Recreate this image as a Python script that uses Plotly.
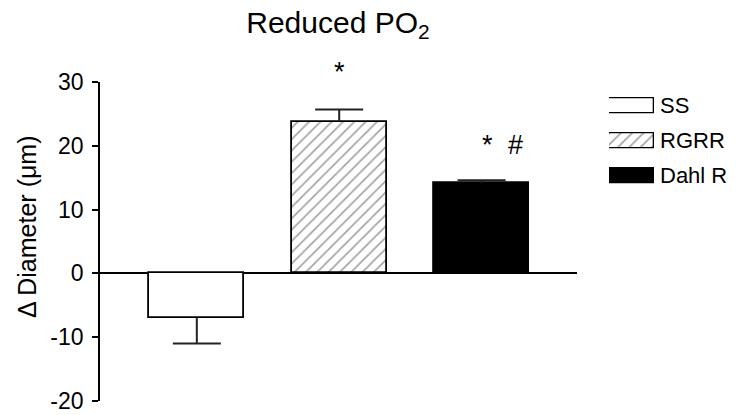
import plotly.graph_objects as go

# ---- data ----
categories = ["SS", "RGRR", "Dahl R"]
values = [-7.0, 23.8, 14.2]
err_plus = [0.0, 1.9, 0.4]
err_minus = [4.0, 0.0, 0.0]
fill_colors = ["white", "white", "black"]
patterns = ["", "/", ""]
y_ticks = [-20, -10, 0, 10, 20, 30]
y_tick_labels = ["-20", "-10", "0", "10", "20", "30"]
sig_marks = [("*", 1, 31.6), ("*", 2.04, 20.1), ("#", 2.24, 20.1)]

FONT = "Liberation Sans, Arial, sans-serif"
W, H = 747, 415
L, R, T, B = 100, 10, 82, 14
PW = W - L - R
PH = H - T - B

def px_x(p):
    return (p - L) / PW

def px_y(p):
    return (H - B - p) / PH

xs = list(range(len(categories)))
tips = [v + p - m for v, p, m in zip(values, err_plus, err_minus)]

fig = go.Figure()

fig.add_trace(go.Bar(
    x=xs, y=values,
    width=0.667,
    marker=dict(color=fill_colors, line=dict(color="black", width=1.8),
                pattern=dict(shape=patterns, fgcolor="#333", bgcolor="white",
                             size=8, solidity=0.2)),
    error_y=dict(type="data", symmetric=False, array=err_plus, arrayminus=err_minus,
                 color="#222", thickness=2, width=0),
    showlegend=False, xaxis="x", yaxis="y", cliponaxis=False,
))

# error-bar caps at the far tip only
fig.add_trace(go.Scatter(
    x=xs, y=tips, mode="markers", marker=dict(opacity=0, size=1),
    error_y=dict(type="data", array=[0, 0, 0], color="#222", thickness=2, width=24),
    showlegend=False, hoverinfo="skip", xaxis="x", yaxis="y", cliponaxis=False,
))

# legend swatches drawn as bars on an auxiliary axis
fig.add_trace(go.Bar(
    y=categories, x=[1, 1, 1], orientation="h", width=0.43,
    marker=dict(color=fill_colors, line=dict(color="black", width=1.3),
                pattern=dict(shape=patterns, fgcolor="#333", bgcolor="white",
                             size=8, solidity=0.2)),
    showlegend=False, xaxis="x2", yaxis="y2", hoverinfo="skip",
))

fig.update_layout(
    width=W, height=H,
    margin=dict(l=L, r=R, t=T, b=B, autoexpand=False),
    paper_bgcolor="white", plot_bgcolor="white",
    font=dict(family=FONT, color="black"),
    title=dict(text="Reduced PO<sub>2</sub>", font=dict(size=30, family=FONT),
               x=338 / W, xanchor="center", xref="container",
               y=1 - 22 / H, yanchor="middle", yref="container"),
    xaxis=dict(domain=[0, 477 / PW], range=[-0.68, 2.67], showticklabels=False,
               showgrid=False, zeroline=False, showline=False, ticks="",
               automargin=False),
    yaxis=dict(range=[-20, 30], tickvals=y_ticks, ticktext=y_tick_labels,
               showgrid=False, automargin=False,
               zeroline=True, zerolinecolor="black", zerolinewidth=1.6,
               showline=True, linecolor="black", linewidth=1.6,
               ticks="outside", ticklen=6, tickwidth=1.6, tickcolor="black",
               tickfont=dict(size=23, family=FONT), ticklabelstandoff=4),
    xaxis2=dict(domain=[px_x(609), px_x(654)], range=[0, 1], anchor="y2",
                visible=False, automargin=False),
    yaxis2=dict(domain=[px_y(193.3), px_y(88.3)], range=[2.5, -0.5], anchor="x2",
                visible=False, categoryorder="array", categoryarray=categories,
                type="category", automargin=False),
    bargap=0,
)

annotations = []
for txt, xv, yv in sig_marks:
    annotations.append(dict(x=xv, y=(yv + 20) / 50, xref="x", yref="paper", text=txt,
                            showarrow=False, font=dict(size=27, family=FONT),
                            xanchor="center", yanchor="middle"))
annotations.append(dict(x=px_x(27), y=px_y(227), xref="paper", yref="paper",
                        text="Δ Diameter (μm)", textangle=-90, showarrow=False,
                        font=dict(size=25, family=FONT), xanchor="center",
                        yanchor="middle"))
for c in categories:
    annotations.append(dict(x=px_x(658), y=c, xref="paper", yref="y2", text=c,
                            showarrow=False, font=dict(size=22, family=FONT),
                            xanchor="left", yanchor="middle"))
fig.update_layout(annotations=annotations)

fig.write_html("out.html", config={"displayModeBar": False},
               post_script="document.body.style.margin='0';document.body.style.padding='0';")
